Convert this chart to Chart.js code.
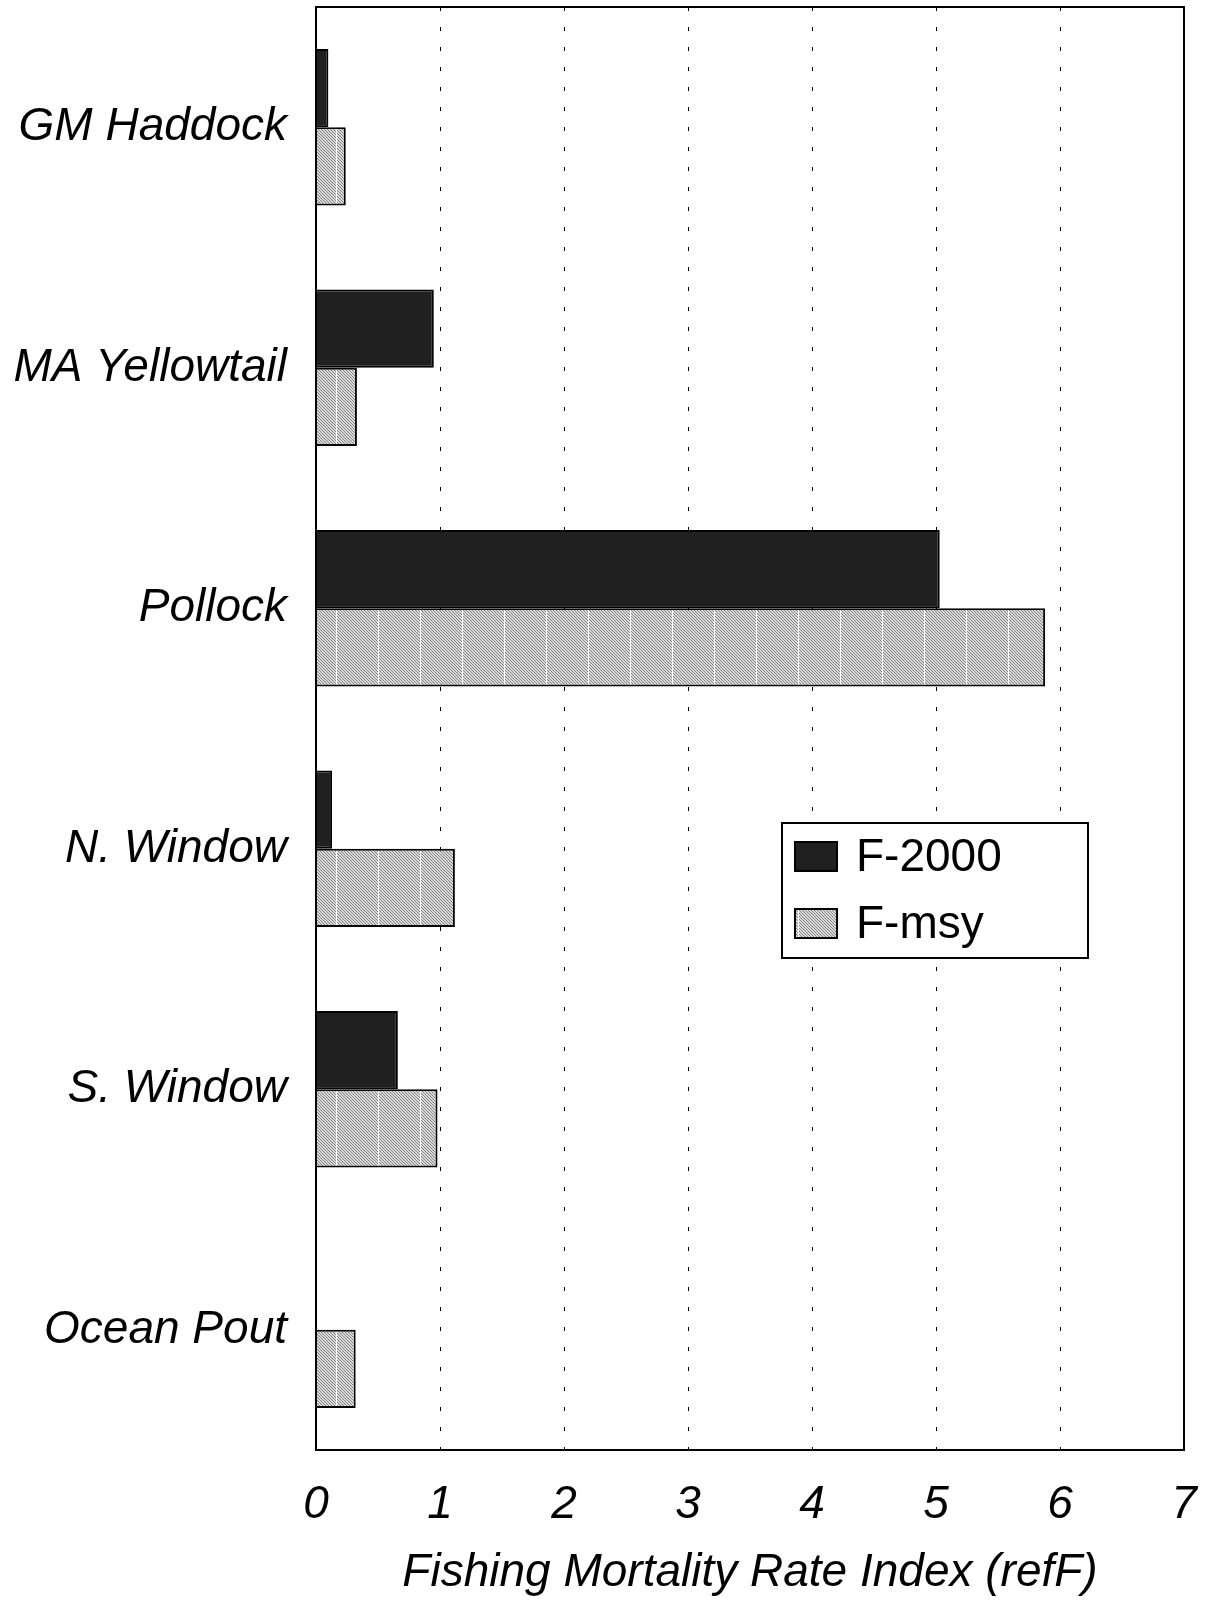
<!DOCTYPE html>
<html>
<head>
<meta charset="utf-8">
<script src="https://cdn.jsdelivr.net/npm/chart.js@4/dist/chart.umd.min.js"></script>
<style>
  body { margin: 0; background: #fff; }
  canvas { display: block; }
</style>
</head>
<body>
<canvas id="canvas" width="1209" height="1601"></canvas>
<script>
// data
var stocks = ['GM Haddock', 'MA Yellowtail', 'Pollock', 'N. Window', 'S. Window', 'Ocean Pout'];
var f2000 = [0.10, 0.95, 5.03, 0.13, 0.66, 0];
var fmsy = [0.24, 0.33, 5.88, 1.12, 0.98, 0.32];
var seriesNames = ['F-2000', 'F-msy'];
var xTicks = [0, 1, 2, 3, 4, 5, 6, 7];
var xTitle = 'Fishing Mortality Rate Index (refF)';

var FONT = '"Liberation Sans", Arial, sans-serif';

// light gray hatch with white vertical lines, like the old printer fill
function hatchPattern() {
    var tile = document.createElement('canvas');
    tile.width = 42;
    tile.height = 42;
    var c = tile.getContext('2d');
    var img = c.createImageData(42, 42);
    for (var y = 0; y < 42; y++) {
        for (var x = 0; x < 42; x++) {
            var v = ((x - y + 42) % 3 == 0) ? 130 : 218;
            if (x == 0) v = 255;
            var i = (y * 42 + x) * 4;
            img.data[i] = img.data[i + 1] = img.data[i + 2] = v;
            img.data[i + 3] = 255;
        }
    }
    c.putImageData(img, 0, 0);
    return document.getElementById('canvas').getContext('2d').createPattern(tile, 'repeat');
}

var hatch = hatchPattern();

var framePlugin = {
    id: 'frame',
    afterDraw: function (chart) {
        var ctx = chart.ctx;
        var a = chart.chartArea;
        ctx.save();
        ctx.strokeStyle = '#000';
        ctx.lineWidth = 2;
        ctx.strokeRect(a.left, a.top, a.right - a.left, a.bottom - a.top);

        // legend box inside the plot
        var lx = 782, ly = 823, lw = 306, lh = 135;
        ctx.fillStyle = '#fff';
        ctx.fillRect(lx, ly, lw, lh);
        ctx.strokeRect(lx, ly, lw, lh);
        var ds = chart.data.datasets;
        for (var i = 0; i < ds.length; i++) {
            var sy = 842 + i * 67;
            ctx.fillStyle = ds[i].backgroundColor;
            ctx.fillRect(795, sy, 42, 29);
            ctx.strokeStyle = '#000';
            ctx.lineWidth = 2;
            ctx.strokeRect(795, sy, 42, 29);
            ctx.fillStyle = '#000';
            ctx.font = '46px ' + FONT;
            ctx.textBaseline = 'middle';
            ctx.textAlign = 'left';
            ctx.fillText(ds[i].label, 856, sy + 16);
        }
        ctx.restore();
    }
};

var ctx = document.getElementById('canvas').getContext('2d');
var chart = new Chart(ctx, {
    type: 'bar',
    data: {
        labels: stocks,
        datasets: [
            {
                label: seriesNames[0],
                data: f2000,
                backgroundColor: '#202020',
                borderColor: '#000',
                borderWidth: 2,
                borderSkipped: 'left'
            },
            {
                label: seriesNames[1],
                data: fmsy,
                backgroundColor: hatch,
                borderColor: '#000',
                borderWidth: 2,
                borderSkipped: 'left'
            }
        ]
    },
    options: {
        indexAxis: 'y',
        responsive: false,
        animation: false,
        categoryPercentage: 0.65,
        barPercentage: 1.0,
        layout: { padding: { top: 7, right: 25, left: 0, bottom: 0 } },
        plugins: {
            legend: { display: false },
            tooltip: { enabled: false }
        },
        scales: {
            x: {
                min: 0,
                max: 7,
                afterBuildTicks: function (s) {
                    s.ticks = xTicks.map(function (v) { return { value: v }; });
                },
                afterFit: function (s) {
                    s.height = 151;
                    s.paddingLeft = 0;
                    s.paddingRight = 0;
                },
                grid: {
                    color: '#000',
                    lineWidth: 1,
                    drawTicks: false,
                    tickLength: 0
                },
                border: { display: false, dash: [4, 16] },
                ticks: {
                    color: '#000',
                    padding: 28,
                    maxRotation: 0,
                    font: { family: FONT, size: 46, style: 'italic' }
                },
                title: {
                    display: true,
                    text: xTitle,
                    color: '#000',
                    padding: { top: 8, bottom: 0 },
                    font: { family: FONT, size: 46, style: 'italic' }
                }
            },
            y: {
                afterFit: function (s) {
                    s.width = 316;
                    s.paddingTop = 0;
                    s.paddingBottom = 0;
                },
                grid: { display: false },
                border: { display: false },
                ticks: {
                    color: '#000',
                    padding: 21,
                    font: { family: FONT, size: 46, style: 'italic' }
                }
            }
        }
    },
    plugins: [framePlugin]
});
</script>
</body>
</html>
